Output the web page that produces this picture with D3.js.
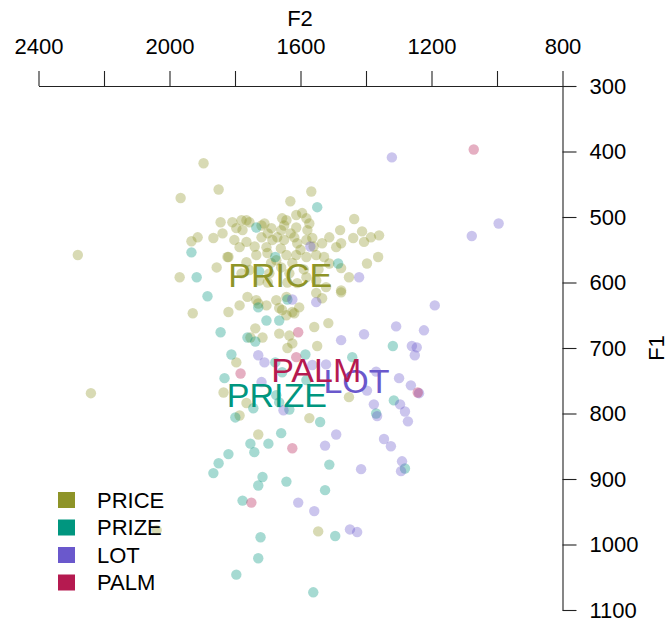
<!DOCTYPE html>
<html>
<head>
<meta charset="utf-8">
<script src="https://cdn.jsdelivr.net/npm/d3@7"></script>
<style>
  html, body { margin: 0; padding: 0; background: #fff; }
  svg { display: block; font-family: "Liberation Sans", Arial, Helvetica, sans-serif; }
</style>
</head>
<body>
<svg id="chart" width="668" height="626"></svg>
<script>
// ---------- data (F2, F1 in Hz) ----------
const vowels = ["PRICE", "PRIZE", "LOT", "PALM"];
const colors = ["#8e9428", "#00967f", "#6a58cc", "#b51a50"];

const pricePts = [[1896,418],[1850,458],[1966,471],[2280,558],[2240,769],[1631,476],[1567,461],[1844,508],[1914,531],[1933,537],[1866,532],[1969,592],[1856,577],[1820,561],[1929,647],[1820,645],[1436,503],[1479,520],[1412,522],[1360,528],[1363,561],[1397,571],[1439,532],
[1808,508],[1780,505],[1765,505],[1756,508],[1796,517],[1777,520],[1719,513],[1710,510],[1689,517],[1656,502],[1643,505],[1613,497],[1595,494],[1582,502],[1573,510],[1579,520],[1613,516],[1650,513],[1659,520],
[1838,525],[1802,535],[1786,546],[1765,538],[1719,531],[1704,546],[1686,535],[1671,531],[1650,535],[1619,531],[1610,540],[1582,535],[1564,532],[1534,540],[1512,531],[1491,546],[1476,540],[1406,538],[1385,531],
[1823,561],[1765,569],[1735,558],[1701,555],[1674,566],[1643,558],[1613,558],[1582,561],[1552,558],[1528,561],[1512,571],[1476,578],
[1780,586],[1756,581],[1726,597],[1695,586],[1659,577],[1634,586],[1610,601],[1582,592],[1552,597],[1522,607],[1476,612],[1452,592],
[1786,635],[1762,622],[1735,627],[1704,635],[1674,627],[1656,642],[1625,645],[1604,638],[1552,616],[1534,624],[1476,615],[1643,622],
[1729,632],[1665,639],[1643,650],[1619,647],[1738,670],[1753,684],[1716,684],[1665,678],[1634,681],[1558,668],[1515,662],[1549,697],[1640,700],[1625,693],[1796,722],[1835,768],[1765,784],[1786,803],[1573,807],[1452,775],[1729,832],[1546,980],[2039,978],
[1700,525],[1630,525],[1600,550],[1690,570],[1625,570],[1560,545],[1740,545],[1660,548],[1590,580],[1700,600],[1640,600],[1545,580]];

const prizePts = [[1549,485],[1735,516],[1677,561],[1485,571],[1933,554],[1917,592],[1884,621],[1726,583],[1729,638],[1704,658],[1665,658],[1640,626],[1844,676],[1762,684],[1738,690],[1811,710],[1832,746],[1677,722],[1585,710],[1442,714],[1656,737],[1582,749],[1674,772],[1665,783],[1634,794],[1799,806],[1744,792],[1540,813],[1318,697],[1315,780],[1369,800],[1659,830],[1753,846],[1698,846],[1741,859],[1820,862],[1850,876],[1866,891],[1716,897],[1729,910],[1643,904],[1525,917],[1512,878],[1777,933],[1722,989],[1494,987],[1729,1021],[1796,1046],[1561,1073],[1281,884]];

const lotPts = [[1321,409],[1077,529],[995,510],[1190,635],[1223,673],[1308,667],[1260,697],[1245,699],[1251,711],[1476,688],[1406,679],[1552,630],[1570,545],[1625,626],[1421,592],[1729,711],[1710,722],[1564,726],[1522,725],[1369,736],[1299,746],[1263,757],[1397,765],[1238,769],[1376,786],[1296,786],[1281,797],[1272,812],[1366,804],[1491,832],[1525,849],[1345,839],[1324,850],[1290,873],[1293,888],[1415,885],[1652,795],[1719,752],[1607,936],[1558,949],[1449,977],[1427,981]];

const palmPts = [[1071,397],[1607,676],[1613,714],[1783,739],[1242,768],[1625,853],[1750,936]];

// label positions (F2, F1) for each vowel
const labelF2 = [1662, 1672, 1429, 1552];
const labelF1 = [588, 771, 750, 733];

// axes
const f2Ticks = [2400, 2200, 2000, 1800, 1600, 1400, 1200, 1000, 800];
const f2Labels = [2400, 2000, 1600, 1200, 800];
const f1Ticks = [300, 400, 500, 600, 700, 800, 900, 1000, 1100];

// ---------- drawing ----------
const svg = d3.select("#chart");
const x = d3.scaleLinear().domain([2400, 800]).range([38.5, 562.5]);
const y = d3.scaleLinear().domain([300, 1100]).range([86, 610]);
const color = d3.scaleOrdinal().domain(vowels).range(colors);

const series = [pricePts, prizePts, lotPts, palmPts];

// points
series.forEach((pts, i) => {
  svg.append("g").selectAll("circle")
    .data(pts).join("circle")
    .attr("cx", d => x(d[0]))
    .attr("cy", d => y(d[1]))
    .attr("r", 5.2)
    .attr("fill", color(vowels[i]))
    .attr("fill-opacity", 0.35);
});

// top axis
const xAxis = d3.axisTop(x).tickValues(f2Ticks).tickSize(15).tickSizeOuter(0).tickPadding(17)
  .tickFormat(d => f2Labels.includes(d) ? String(d) : "");
const gx = svg.append("g").attr("transform", "translate(0,86)").call(xAxis);
gx.selectAll("path,line").attr("stroke", "#222").attr("stroke-width", 1.1);
gx.selectAll("text").attr("font-size", 22).attr("fill", "#000")
  .attr("font-family", '"Liberation Sans", Arial, sans-serif');

// right axis
const yAxis = d3.axisRight(y).tickValues(f1Ticks).tickSize(14).tickSizeOuter(0).tickPadding(13)
  .tickFormat(d3.format("d"));
const gy = svg.append("g").attr("transform", "translate(562.5,0)").call(yAxis);
gy.selectAll("path,line").attr("stroke", "#222").attr("stroke-width", 1.1);
gy.selectAll("text").attr("font-size", 22).attr("fill", "#000")
  .attr("font-family", '"Liberation Sans", Arial, sans-serif');

// axis titles
svg.append("text").attr("x", 300).attr("y", 26).attr("text-anchor", "middle")
  .attr("font-size", 22).text("F2");
svg.append("text").attr("transform", "translate(664,348) rotate(-90)")
  .attr("text-anchor", "middle").attr("font-size", 22).text("F1");

// vowel labels
vowels.forEach((v, i) => {
  svg.append("text")
    .attr("x", x(labelF2[i])).attr("y", y(labelF1[i]))
    .attr("text-anchor", "middle").attr("dominant-baseline", "central")
    .attr("font-size", 34).attr("fill", color(v)).text(v);
});

// legend
const lg = svg.append("g");
vowels.forEach((v, i) => {
  const cy = 500 + i * 27.5;
  lg.append("rect").attr("x", 58).attr("y", cy - 8).attr("width", 17).attr("height", 16)
    .attr("fill", color(v));
  lg.append("text").attr("x", 97).attr("y", cy).attr("dominant-baseline", "central")
    .attr("font-size", 22).attr("fill", "#000").text(v);
});
</script>
</body>
</html>
